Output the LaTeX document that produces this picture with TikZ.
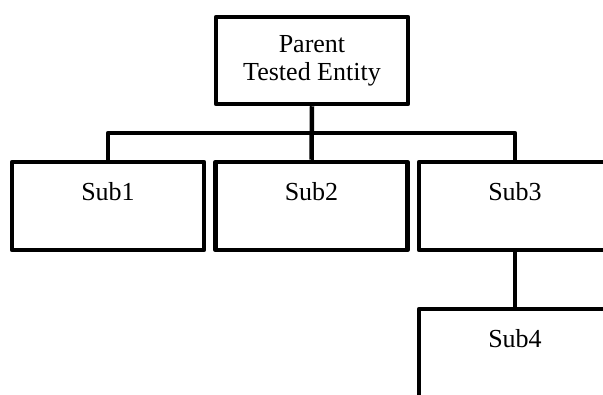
\documentclass[tikz,border=0pt]{standalone}
\usepackage{fontspec}
\setmainfont{Liberation Serif}
\begin{document}
\begin{tikzpicture}[x=1pt,y=-1pt,
  orgbox/.style={draw, line width=4.5pt, line join=round, rectangle,
    minimum width=192pt, inner sep=0pt,
    font=\fontsize{26}{28}\selectfont},
  parentbox/.style={orgbox, minimum height=87pt, align=center},
  subbox/.style={orgbox, text height=38pt, text depth=50pt},
  link/.style={draw, line width=4.5pt, line join=round}]
  \useasboundingbox (0,0) rectangle (603,394);
  \clip (0,0) rectangle (603,394);

  % boxes of the tree
  \node[parentbox] (p) at (312,60.5) {Parent\\Tested Entity};
  \node[subbox] (s1) at (108,206) {Sub1};
  \node[subbox] (s2) at (311.5,206) {Sub2};
  \node[subbox] (s3) at (515,206) {Sub3};
  \node[subbox] (s4) at (515,353) {Sub4};

  % level bar joining the first row
  \coordinate (bar) at (312,133);

  % connectors
  \path[link] (p.south) -- (s2.north);
  \path[link] (s1.north) -- (s1.north |- bar) -- (s3.north |- bar) -- (s3.north);
  \path[link] (s3.south) -- (s4.north);
\end{tikzpicture}
\end{document}
